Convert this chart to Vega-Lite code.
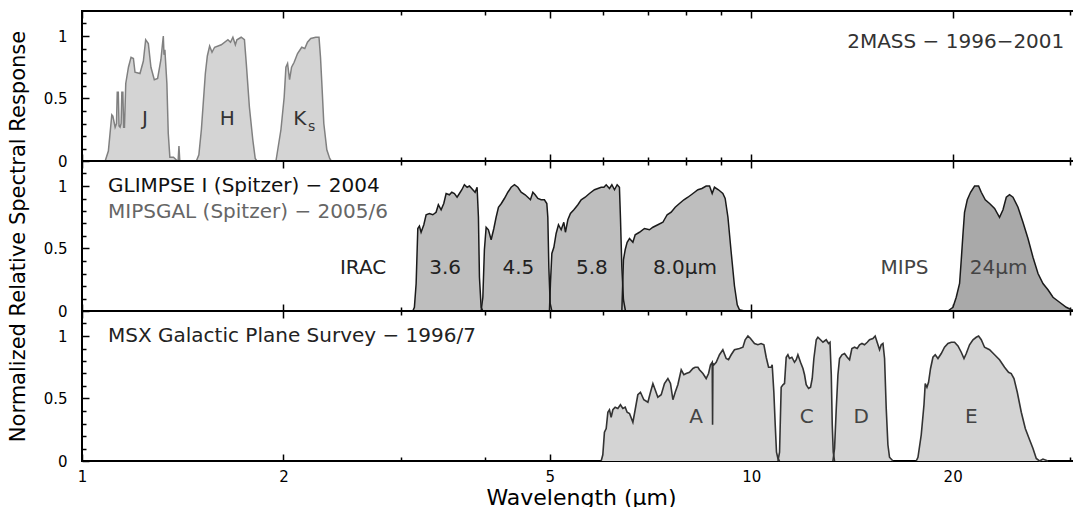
{
"$schema":"https://vega.github.io/schema/vega-lite/v6.json",
"background":"white",
"padding":{"left":6,"top":9,"right":0,"bottom":0},
"config":{"view":{"stroke":"black","strokeWidth":2},"font":"DejaVu Sans"},
"spacing":0,
"bounds":"flush",
"datasets":{
"twomass":[
{"band":"J","wl":1.083,"r":0},{"band":"J","wl":1.095,"r":0.08},{"band":"J","wl":1.108,"r":0.37},{"band":"J","wl":1.112,"r":0.36},{"band":"J","wl":1.1207,"r":0.27},{"band":"J","wl":1.126,"r":0.3},{"band":"J","wl":1.129,"r":0.55},{"band":"J","wl":1.133,"r":0.55},{"band":"J","wl":1.136,"r":0.28},{"band":"J","wl":1.14,"r":0.27},{"band":"J","wl":1.144,"r":0.3},{"band":"J","wl":1.147,"r":0.55},{"band":"J","wl":1.151,"r":0.55},{"band":"J","wl":1.154,"r":0.27},{"band":"J","wl":1.1573,"r":0.27},{"band":"J","wl":1.1625,"r":0.62},{"band":"J","wl":1.1733,"r":0.75},{"band":"J","wl":1.1838,"r":0.83},{"band":"J","wl":1.1935,"r":0.82},{"band":"J","wl":1.2001,"r":0.71},{"band":"J","wl":1.2208,"r":0.7},{"band":"J","wl":1.2351,"r":0.8},{"band":"J","wl":1.2449,"r":0.97},{"band":"J","wl":1.2564,"r":0.94},{"band":"J","wl":1.2677,"r":0.75},{"band":"J","wl":1.2825,"r":0.65},{"band":"J","wl":1.2972,"r":0.66},{"band":"J","wl":1.3119,"r":0.81},{"band":"J","wl":1.3228,"r":1.0},{"band":"J","wl":1.326,"r":0.85},{"band":"J","wl":1.33,"r":0.89},{"band":"J","wl":1.3392,"r":0.62},{"band":"J","wl":1.3456,"r":0.22},{"band":"J","wl":1.353,"r":0.03},{"band":"J","wl":1.37,"r":0.03},{"band":"J","wl":1.3889,"r":0},{"band":"J","wl":1.392,"r":0},{"band":"J","wl":1.396,"r":0.12},{"band":"J","wl":1.4,"r":0},
{"band":"H","wl":1.4823,"r":0},{"band":"H","wl":1.495,"r":0.05},{"band":"H","wl":1.5079,"r":0.25},{"band":"H","wl":1.5287,"r":0.7},{"band":"H","wl":1.5392,"r":0.84},{"band":"H","wl":1.5514,"r":0.92},{"band":"H","wl":1.5642,"r":0.87},{"band":"H","wl":1.5782,"r":0.91},{"band":"H","wl":1.6148,"r":0.93},{"band":"H","wl":1.6522,"r":0.97},{"band":"H","wl":1.667,"r":0.95},{"band":"H","wl":1.6807,"r":0.99},{"band":"H","wl":1.695,"r":0.93},{"band":"H","wl":1.704,"r":0.97},{"band":"H","wl":1.7292,"r":0.99},{"band":"H","wl":1.7488,"r":0.97},{"band":"H","wl":1.76,"r":0.78},{"band":"H","wl":1.779,"r":0.43},{"band":"H","wl":1.7998,"r":0.17},{"band":"H","wl":1.815,"r":0.02},{"band":"H","wl":1.825,"r":0},
{"band":"Ks","wl":1.9491,"r":0},{"band":"Ks","wl":1.9827,"r":0.25},{"band":"Ks","wl":2.005,"r":0.51},{"band":"Ks","wl":2.017,"r":0.75},{"band":"Ks","wl":2.0287,"r":0.78},{"band":"Ks","wl":2.0426,"r":0.65},{"band":"Ks","wl":2.0567,"r":0.75},{"band":"Ks","wl":2.0751,"r":0.79},{"band":"Ks","wl":2.0993,"r":0.86},{"band":"Ks","wl":2.13,"r":0.91},{"band":"Ks","wl":2.1524,"r":0.9},{"band":"Ks","wl":2.1723,"r":0.95},{"band":"Ks","wl":2.197,"r":0.98},{"band":"Ks","wl":2.2349,"r":0.99},{"band":"Ks","wl":2.2603,"r":0.99},{"band":"Ks","wl":2.272,"r":0.83},{"band":"Ks","wl":2.285,"r":0.57},{"band":"Ks","wl":2.298,"r":0.3},{"band":"Ks","wl":2.322,"r":0.09},{"band":"Ks","wl":2.345,"r":0.02},{"band":"Ks","wl":2.358,"r":0}
],
"spitzer":[
{"band":"3.6","wl":3.1213,"r":0},{"band":"3.6","wl":3.1385,"r":0.03},{"band":"3.6","wl":3.1573,"r":0.22},{"band":"3.6","wl":3.1755,"r":0.66},{"band":"3.6","wl":3.1932,"r":0.68},{"band":"3.6","wl":3.2116,"r":0.63},{"band":"3.6","wl":3.2419,"r":0.69},{"band":"3.6","wl":3.2676,"r":0.77},{"band":"3.6","wl":3.3045,"r":0.78},{"band":"3.6","wl":3.3437,"r":0.77},{"band":"3.6","wl":3.3815,"r":0.79},{"band":"3.6","wl":3.4082,"r":0.85},{"band":"3.6","wl":3.4406,"r":0.81},{"band":"3.6","wl":3.4722,"r":0.86},{"band":"3.6","wl":3.5005,"r":0.94},{"band":"3.6","wl":3.54,"r":0.93},{"band":"3.6","wl":3.5696,"r":0.95},{"band":"3.6","wl":3.6018,"r":0.94},{"band":"3.6","wl":3.635,"r":0.91},{"band":"3.6","wl":3.6646,"r":0.94},{"band":"3.6","wl":3.6951,"r":0.97},{"band":"3.6","wl":3.7275,"r":1.01},{"band":"3.6","wl":3.763,"r":0.99},{"band":"3.6","wl":3.7928,"r":1.0},{"band":"3.6","wl":3.8373,"r":0.97},{"band":"3.6","wl":3.8675,"r":0.95},{"band":"3.6","wl":3.8941,"r":0.99},{"band":"3.6","wl":3.9122,"r":0.75},{"band":"3.6","wl":3.9258,"r":0.27},{"band":"3.6","wl":3.9485,"r":0.03},{"band":"3.6","wl":3.972,"r":0},
{"band":"4.5","wl":3.9485,"r":0},{"band":"4.5","wl":3.972,"r":0.11},{"band":"4.5","wl":3.9932,"r":0.49},{"band":"4.5","wl":4.0173,"r":0.67},{"band":"4.5","wl":4.0488,"r":0.65},{"band":"4.5","wl":4.0871,"r":0.57},{"band":"4.5","wl":4.1251,"r":0.66},{"band":"4.5","wl":4.1574,"r":0.75},{"band":"4.5","wl":4.191,"r":0.83},{"band":"4.5","wl":4.2328,"r":0.86},{"band":"4.5","wl":4.2777,"r":0.9},{"band":"4.5","wl":4.3289,"r":0.95},{"band":"4.5","wl":4.3784,"r":0.99},{"band":"4.5","wl":4.4286,"r":1.01},{"band":"4.5","wl":4.4803,"r":0.99},{"band":"4.5","wl":4.5313,"r":0.95},{"band":"4.5","wl":4.5943,"r":0.93},{"band":"4.5","wl":4.6369,"r":0.91},{"band":"4.5","wl":4.6785,"r":0.89},{"band":"4.5","wl":4.7177,"r":0.95},{"band":"4.5","wl":4.7547,"r":0.93},{"band":"4.5","wl":4.7997,"r":0.9},{"band":"4.5","wl":4.8543,"r":0.89},{"band":"4.5","wl":4.9092,"r":0.89},{"band":"4.5","wl":4.95,"r":0.86},{"band":"4.5","wl":4.9672,"r":0.75},{"band":"4.5","wl":4.9845,"r":0.35},{"band":"4.5","wl":5.0073,"r":0.06},{"band":"4.5","wl":5.0364,"r":0},
{"band":"5.8","wl":4.9948,"r":0},{"band":"5.8","wl":5.0119,"r":0.22},{"band":"5.8","wl":5.0364,"r":0.46},{"band":"5.8","wl":5.0714,"r":0.51},{"band":"5.8","wl":5.1111,"r":0.62},{"band":"5.8","wl":5.1525,"r":0.69},{"band":"5.8","wl":5.2003,"r":0.65},{"band":"5.8","wl":5.2481,"r":0.71},{"band":"5.8","wl":5.2774,"r":0.63},{"band":"5.8","wl":5.3214,"r":0.73},{"band":"5.8","wl":5.3691,"r":0.78},{"band":"5.8","wl":5.4329,"r":0.81},{"band":"5.8","wl":5.5082,"r":0.85},{"band":"5.8","wl":5.5711,"r":0.89},{"band":"5.8","wl":5.6483,"r":0.91},{"band":"5.8","wl":5.7321,"r":0.94},{"band":"5.8","wl":5.8321,"r":0.97},{"band":"5.8","wl":5.9007,"r":0.98},{"band":"5.8","wl":5.9676,"r":0.99},{"band":"5.8","wl":6.0242,"r":0.99},{"band":"5.8","wl":6.0719,"r":1.01},{"band":"5.8","wl":6.1407,"r":0.98},{"band":"5.8","wl":6.1918,"r":1.01},{"band":"5.8","wl":6.2478,"r":0.97},{"band":"5.8","wl":6.3053,"r":1.01},{"band":"5.8","wl":6.3551,"r":0.99},{"band":"5.8","wl":6.3772,"r":0.75},{"band":"5.8","wl":6.408,"r":0.35},{"band":"5.8","wl":6.4433,"r":0.09},{"band":"5.8","wl":6.4881,"r":0},
{"band":"8.0","wl":6.408,"r":0},{"band":"8.0","wl":6.4433,"r":0.41},{"band":"8.0","wl":6.4821,"r":0.49},{"band":"8.0","wl":6.5257,"r":0.55},{"band":"8.0","wl":6.5793,"r":0.58},{"band":"8.0","wl":6.6562,"r":0.55},{"band":"8.0","wl":6.7089,"r":0.61},{"band":"8.0","wl":6.8081,"r":0.63},{"band":"8.0","wl":6.9264,"r":0.66},{"band":"8.0","wl":7.0473,"r":0.65},{"band":"8.0","wl":7.1306,"r":0.67},{"band":"8.0","wl":7.2528,"r":0.69},{"band":"8.0","wl":7.3794,"r":0.71},{"band":"8.0","wl":7.4891,"r":0.77},{"band":"8.0","wl":7.5929,"r":0.79},{"band":"8.0","wl":7.6994,"r":0.83},{"band":"8.0","wl":7.8131,"r":0.86},{"band":"8.0","wl":7.9325,"r":0.89},{"band":"8.0","wl":8.0432,"r":0.91},{"band":"8.0","wl":8.1832,"r":0.94},{"band":"8.0","wl":8.3254,"r":0.97},{"band":"8.0","wl":8.4397,"r":0.98},{"band":"8.0","wl":8.5649,"r":1.0},{"band":"8.0","wl":8.6651,"r":1.0},{"band":"8.0","wl":8.7441,"r":0.94},{"band":"8.0","wl":8.8131,"r":0.99},{"band":"8.0","wl":8.9353,"r":0.97},{"band":"8.0","wl":9.0709,"r":0.94},{"band":"8.0","wl":9.1435,"r":0.9},{"band":"8.0","wl":9.2313,"r":0.75},{"band":"8.0","wl":9.3347,"r":0.47},{"band":"8.0","wl":9.4412,"r":0.2},{"band":"8.0","wl":9.5317,"r":0.05},{"band":"8.0","wl":9.6055,"r":0.01},{"band":"8.0","wl":9.7724,"r":0},
{"band":"24","wl":19.68,"r":0},{"band":"24","wl":20.023,"r":0.03},{"band":"24","wl":20.25,"r":0.11},{"band":"24","wl":20.484,"r":0.22},{"band":"24","wl":20.603,"r":0.41},{"band":"24","wl":20.727,"r":0.62},{"band":"24","wl":20.836,"r":0.79},{"band":"24","wl":21.034,"r":0.89},{"band":"24","wl":21.273,"r":0.95},{"band":"24","wl":21.569,"r":1.0},{"band":"24","wl":21.868,"r":1.0},{"band":"24","wl":22.071,"r":0.95},{"band":"24","wl":22.377,"r":0.89},{"band":"24","wl":22.711,"r":0.86},{"band":"24","wl":23.106,"r":0.82},{"band":"24","wl":23.502,"r":0.75},{"band":"24","wl":23.783,"r":0.81},{"band":"24","wl":24.055,"r":0.91},{"band":"24","wl":24.325,"r":0.93},{"band":"24","wl":24.616,"r":0.91},{"band":"24","wl":25.044,"r":0.83},{"band":"24","wl":25.476,"r":0.71},{"band":"24","wl":25.919,"r":0.58},{"band":"24","wl":26.37,"r":0.43},{"band":"24","wl":26.83,"r":0.3},{"band":"24","wl":27.291,"r":0.22},{"band":"24","wl":27.767,"r":0.17},{"band":"24","wl":28.25,"r":0.11},{"band":"24","wl":28.894,"r":0.07},{"band":"24","wl":29.574,"r":0.03},{"band":"24","wl":30.08,"r":0.01},{"band":"24","wl":31,"r":0}
],
"msx":[
{"band":"A","wl":5.9676,"r":0},{"band":"A","wl":6.0017,"r":0.05},{"band":"A","wl":6.0354,"r":0.23},{"band":"A","wl":6.0719,"r":0.26},{"band":"A","wl":6.107,"r":0.39},{"band":"A","wl":6.1407,"r":0.41},{"band":"A","wl":6.1761,"r":0.35},{"band":"A","wl":6.2133,"r":0.41},{"band":"A","wl":6.2621,"r":0.43},{"band":"A","wl":6.3199,"r":0.42},{"band":"A","wl":6.3772,"r":0.45},{"band":"A","wl":6.4301,"r":0.42},{"band":"A","wl":6.4821,"r":0.43},{"band":"A","wl":6.5257,"r":0.39},{"band":"A","wl":6.5793,"r":0.38},{"band":"A","wl":6.6562,"r":0.31},{"band":"A","wl":6.7085,"r":0.41},{"band":"A","wl":6.7703,"r":0.53},{"band":"A","wl":6.8317,"r":0.55},{"band":"A","wl":6.912,"r":0.49},{"band":"A","wl":7.0086,"r":0.47},{"band":"A","wl":7.0715,"r":0.55},{"band":"A","wl":7.1306,"r":0.62},{"band":"A","wl":7.1867,"r":0.57},{"band":"A","wl":7.2528,"r":0.51},{"band":"A","wl":7.3372,"r":0.53},{"band":"A","wl":7.42,"r":0.62},{"band":"A","wl":7.5081,"r":0.66},{"band":"A","wl":7.5755,"r":0.62},{"band":"A","wl":7.6388,"r":0.49},{"band":"A","wl":7.6994,"r":0.55},{"band":"A","wl":7.7697,"r":0.61},{"band":"A","wl":7.8601,"r":0.73},{"band":"A","wl":7.9325,"r":0.69},{"band":"A","wl":7.9951,"r":0.7},{"band":"A","wl":8.0876,"r":0.71},{"band":"A","wl":8.1832,"r":0.74},{"band":"A","wl":8.2468,"r":0.75},{"band":"A","wl":8.3254,"r":0.75},{"band":"A","wl":8.3699,"r":0.73},{"band":"A","wl":8.47,"r":0.7},{"band":"A","wl":8.5649,"r":0.66},{"band":"A","wl":8.6357,"r":0.7},{"band":"A","wl":8.6936,"r":0.77},{"band":"A","wl":8.745,"r":0.79},{"band":"A","wl":8.756,"r":0.29},{"band":"A","wl":8.766,"r":0.78},{"band":"A","wl":8.797,"r":0.77},{"band":"A","wl":8.8655,"r":0.79},{"band":"A","wl":8.9665,"r":0.85},{"band":"A","wl":9.0709,"r":0.89},{"band":"A","wl":9.1753,"r":0.82},{"band":"A","wl":9.2497,"r":0.81},{"band":"A","wl":9.3347,"r":0.85},{"band":"A","wl":9.4412,"r":0.89},{"band":"A","wl":9.6055,"r":0.9},{"band":"A","wl":9.7191,"r":0.91},{"band":"A","wl":9.7952,"r":0.97},{"band":"A","wl":9.8886,"r":1.0},{"band":"A","wl":9.977,"r":0.98},{"band":"A","wl":10.114,"r":0.94},{"band":"A","wl":10.233,"r":0.93},{"band":"A","wl":10.349,"r":0.94},{"band":"A","wl":10.447,"r":0.93},{"band":"A","wl":10.53,"r":0.83},{"band":"A","wl":10.616,"r":0.75},{"band":"A","wl":10.713,"r":0.75},{"band":"A","wl":10.749,"r":0.77},{"band":"A","wl":10.811,"r":0.55},{"band":"A","wl":10.862,"r":0.29},{"band":"A","wl":10.91,"r":0.07},{"band":"A","wl":10.963,"r":0.02},{"band":"A","wl":11.025,"r":0},
{"band":"C","wl":10.963,"r":0},{"band":"C","wl":11.025,"r":0.07},{"band":"C","wl":11.087,"r":0.59},{"band":"C","wl":11.154,"r":0.61},{"band":"C","wl":11.215,"r":0.62},{"band":"C","wl":11.28,"r":0.83},{"band":"C","wl":11.346,"r":0.85},{"band":"C","wl":11.409,"r":0.82},{"band":"C","wl":11.503,"r":0.83},{"band":"C","wl":11.607,"r":0.79},{"band":"C","wl":11.676,"r":0.81},{"band":"C","wl":11.744,"r":0.85},{"band":"C","wl":11.85,"r":0.79},{"band":"C","wl":11.95,"r":0.74},{"band":"C","wl":12.015,"r":0.69},{"band":"C","wl":12.085,"r":0.61},{"band":"C","wl":12.183,"r":0.58},{"band":"C","wl":12.266,"r":0.59},{"band":"C","wl":12.337,"r":0.66},{"band":"C","wl":12.407,"r":0.82},{"band":"C","wl":12.509,"r":0.97},{"band":"C","wl":12.58,"r":0.99},{"band":"C","wl":12.694,"r":0.97},{"band":"C","wl":12.8,"r":0.95},{"band":"C","wl":12.945,"r":0.97},{"band":"C","wl":13.052,"r":0.94},{"band":"C","wl":13.115,"r":0.95},{"band":"C","wl":13.173,"r":0.69},{"band":"C","wl":13.217,"r":0.29},{"band":"C","wl":13.263,"r":0.07},{"band":"C","wl":13.322,"r":0},
{"band":"D","wl":13.247,"r":0},{"band":"D","wl":13.322,"r":0.1},{"band":"D","wl":13.401,"r":0.42},{"band":"D","wl":13.478,"r":0.69},{"band":"D","wl":13.553,"r":0.82},{"band":"D","wl":13.666,"r":0.85},{"band":"D","wl":13.788,"r":0.86},{"band":"D","wl":13.916,"r":0.83},{"band":"D","wl":14.028,"r":0.81},{"band":"D","wl":14.141,"r":0.9},{"band":"D","wl":14.27,"r":0.91},{"band":"D","wl":14.402,"r":0.9},{"band":"D","wl":14.518,"r":0.93},{"band":"D","wl":14.639,"r":0.94},{"band":"D","wl":14.768,"r":0.93},{"band":"D","wl":14.908,"r":0.95},{"band":"D","wl":15.026,"r":0.97},{"band":"D","wl":15.202,"r":0.98},{"band":"D","wl":15.32,"r":1.0},{"band":"D","wl":15.425,"r":0.95},{"band":"D","wl":15.553,"r":0.89},{"band":"D","wl":15.643,"r":0.93},{"band":"D","wl":15.737,"r":0.94},{"band":"D","wl":15.824,"r":0.82},{"band":"D","wl":15.915,"r":0.42},{"band":"D","wl":16.007,"r":0.13},{"band":"D","wl":16.096,"r":0.03},{"band":"D","wl":16.287,"r":0},
{"band":"E","wl":17.645,"r":0},{"band":"E","wl":17.751,"r":0.03},{"band":"E","wl":17.953,"r":0.21},{"band":"E","wl":18.122,"r":0.45},{"band":"E","wl":18.201,"r":0.62},{"band":"E","wl":18.307,"r":0.59},{"band":"E","wl":18.409,"r":0.63},{"band":"E","wl":18.536,"r":0.74},{"band":"E","wl":18.69,"r":0.83},{"band":"E","wl":18.838,"r":0.85},{"band":"E","wl":19.016,"r":0.82},{"band":"E","wl":19.232,"r":0.86},{"band":"E","wl":19.449,"r":0.91},{"band":"E","wl":19.68,"r":0.94},{"band":"E","wl":19.907,"r":0.95},{"band":"E","wl":20.134,"r":0.95},{"band":"E","wl":20.371,"r":0.92},{"band":"E","wl":20.603,"r":0.87},{"band":"E","wl":20.798,"r":0.82},{"band":"E","wl":20.961,"r":0.86},{"band":"E","wl":21.198,"r":0.93},{"band":"E","wl":21.45,"r":0.97},{"band":"E","wl":21.693,"r":0.99},{"band":"E","wl":21.868,"r":1.0},{"band":"E","wl":22.071,"r":0.97},{"band":"E","wl":22.321,"r":0.91},{"band":"E","wl":22.711,"r":0.89},{"band":"E","wl":23.106,"r":0.85},{"band":"E","wl":23.502,"r":0.81},{"band":"E","wl":23.912,"r":0.75},{"band":"E","wl":24.242,"r":0.71},{"band":"E","wl":24.467,"r":0.7},{"band":"E","wl":24.701,"r":0.66},{"band":"E","wl":24.983,"r":0.55},{"band":"E","wl":25.33,"r":0.39},{"band":"E","wl":25.681,"r":0.26},{"band":"E","wl":26.063,"r":0.17},{"band":"E","wl":26.37,"r":0.1},{"band":"E","wl":26.672,"r":0.02},{"band":"E","wl":26.971,"r":0},{"band":"E","wl":27.291,"r":0.015},{"band":"E","wl":27.767,"r":0}
],
"lab1":[
{"kind":"band","text":"J","wl":1.2423,"r":0.34},{"kind":"band","text":"H","wl":1.6488,"r":0.34},{"kind":"band","text":"K","wl":2.1155,"r":0.34},{"kind":"sub","text":"s","wl":2.2046,"r":0.27},{"kind":"title","text":"2MASS − 1996−2001","wl":29.37,"r":0.95}
],
"lab2":[
{"kind":"title1","text":"GLIMPSE I (Spitzer) − 2004","wl":1.0937,"r":1.0},{"kind":"title2","text":"MIPSGAL (Spitzer) − 2005/6","wl":1.0937,"r":0.79},{"kind":"irac","text":"IRAC","wl":2.6303,"r":0.344},{"kind":"irac","text":"3.6","wl":3.4887,"r":0.344},{"kind":"irac","text":"4.5","wl":4.4895,"r":0.344},{"kind":"irac","text":"5.8","wl":5.78,"r":0.344},{"kind":"irac","text":"8.0μm","wl":7.96,"r":0.344},{"kind":"mips","text":"MIPS","wl":16.95,"r":0.344},{"kind":"mips","text":"24μm","wl":23.43,"r":0.344}
],
"lab3":[
{"kind":"title","text":"MSX Galactic Plane Survey − 1996/7","wl":1.0937,"r":1.0},{"kind":"band","text":"A","wl":8.276,"r":0.354},{"kind":"band","text":"C","wl":12.11,"r":0.354},{"kind":"band","text":"D","wl":14.6,"r":0.354},{"kind":"band","text":"E","wl":21.32,"r":0.354}
]
},
"vconcat":[
{
"width":998,"height":150,
"resolve":{"axis":{"x":"independent"}},
"encoding":{"y":{"field":"r","type":"quantitative","stack":null,"scale":{"domain":[0,1.2],"nice":false},"axis":{"orient":"left","values":[0,0.1,0.2,0.3,0.4,0.5,0.6,0.7,0.8,0.9,1,1.1],"domain":false,"grid":false,"title":null,"tickColor":"black","tickWidth":1.5,"tickSize":{"condition":{"test":"datum.value==0||datum.value==0.5||datum.value==1","value":-7},"value":-4},"format":"~g","labelExpr":"(datum.value==0||datum.value==0.5||datum.value==1) ? datum.label : ''","labelFontSize":15,"labelColor":"black","labelPadding":22,"labelOverlap":false,"labelFlush":false}}},
"layer":[
{"data":{"name":"twomass"},"mark":{"type":"area","color":"#d4d4d4","opacity":1},
"encoding":{
"x":{"field":"wl","type":"quantitative","scale":{"type":"log","domain":[1,31]},"axis":{"orient":"bottom","values":[1,2,3,4,5,6,7,8,9,10,20,30],"labels":false,"domain":false,"grid":false,"title":null,"tickColor":"black","tickWidth":1.5,"tickSize":{"condition":{"test":"indexof([1,2,5,10,20],datum.value)>=0","value":-7},"value":-4}}},
"detail":{"field":"band"}}},
{"data":{"name":"twomass"},"mark":{"type":"line","color":"#808080","strokeWidth":1.5},
"encoding":{
"x":{"field":"wl","type":"quantitative","scale":{"type":"log","domain":[1,31]},"axis":{"orient":"top","values":[1,2,3,4,5,6,7,8,9,10,20,30],"labels":false,"domain":false,"grid":false,"title":null,"tickColor":"black","tickWidth":1.5,"tickSize":{"condition":{"test":"indexof([1,2,5,10,20],datum.value)>=0","value":-7},"value":-4}}},
"detail":{"field":"band"}}},
{"data":{"name":"lab1"},"transform":[{"filter":"datum.kind=='band'"}],"mark":{"type":"text","align":"center","baseline":"middle","fontSize":20,"color":"#333333"},
"encoding":{"x":{"field":"wl","type":"quantitative","scale":{"type":"log","domain":[1,31]},"axis":null},"text":{"field":"text"}}},
{"data":{"name":"lab1"},"transform":[{"filter":"datum.kind=='sub'"}],"mark":{"type":"text","align":"center","baseline":"middle","fontSize":14,"color":"#333333"},
"encoding":{"x":{"field":"wl","type":"quantitative","scale":{"type":"log","domain":[1,31]},"axis":null},"text":{"field":"text"}}},
{"data":{"name":"lab1"},"transform":[{"filter":"datum.kind=='title'"}],"mark":{"type":"text","align":"right","baseline":"middle","fontSize":20,"color":"#333333"},
"encoding":{"x":{"field":"wl","type":"quantitative","scale":{"type":"log","domain":[1,31]},"axis":null},"text":{"field":"text"}}}
]
},
{
"width":998,"height":150,
"resolve":{"axis":{"x":"independent"}},
"encoding":{"y":{"field":"r","type":"quantitative","stack":null,"scale":{"domain":[0,1.2],"nice":false},"axis":{"orient":"left","values":[0,0.1,0.2,0.3,0.4,0.5,0.6,0.7,0.8,0.9,1,1.1],"domain":false,"grid":false,"title":"Normalized Relative Spectral Response","titleFontSize":21,"titleFontWeight":"normal","titleColor":"black","titlePadding":15,"tickColor":"black","tickWidth":1.5,"tickSize":{"condition":{"test":"datum.value==0||datum.value==0.5||datum.value==1","value":-7},"value":-4},"format":"~g","labelExpr":"(datum.value==0||datum.value==0.5||datum.value==1) ? datum.label : ''","labelFontSize":15,"labelColor":"black","labelPadding":22,"labelOverlap":false,"labelFlush":false}}},
"layer":[
{"data":{"name":"spitzer"},"transform":[{"filter":"datum.band!='24'"}],"mark":{"type":"area","color":"#bebebe","opacity":1},
"encoding":{
"x":{"field":"wl","type":"quantitative","scale":{"type":"log","domain":[1,31]},"axis":{"orient":"bottom","values":[1,2,3,4,5,6,7,8,9,10,20,30],"labels":false,"domain":false,"grid":false,"title":null,"tickColor":"black","tickWidth":1.5,"tickSize":{"condition":{"test":"indexof([1,2,5,10,20],datum.value)>=0","value":-7},"value":-4}}},
"detail":{"field":"band"}}},
{"data":{"name":"spitzer"},"transform":[{"filter":"datum.band=='24'"}],"mark":{"type":"area","color":"#a9a9a9","opacity":1},
"encoding":{
"x":{"field":"wl","type":"quantitative","scale":{"type":"log","domain":[1,31]},"axis":null},
"detail":{"field":"band"}}},
{"data":{"name":"spitzer"},"mark":{"type":"line","color":"#1a1a1a","strokeWidth":1.5},
"encoding":{
"x":{"field":"wl","type":"quantitative","scale":{"type":"log","domain":[1,31]},"axis":{"orient":"top","values":[1,2,3,4,5,6,7,8,9,10,20,30],"labels":false,"domain":false,"grid":false,"title":null,"tickColor":"black","tickWidth":1.5,"tickSize":{"condition":{"test":"indexof([1,2,5,10,20],datum.value)>=0","value":-7},"value":-4}}},
"detail":{"field":"band"}}},
{"data":{"name":"lab2"},"transform":[{"filter":"datum.kind=='title1'"}],"mark":{"type":"text","align":"left","baseline":"middle","fontSize":20,"color":"#111111"},
"encoding":{"x":{"field":"wl","type":"quantitative","scale":{"type":"log","domain":[1,31]},"axis":null},"text":{"field":"text"}}},
{"data":{"name":"lab2"},"transform":[{"filter":"datum.kind=='title2'"}],"mark":{"type":"text","align":"left","baseline":"middle","fontSize":20,"color":"#666666"},
"encoding":{"x":{"field":"wl","type":"quantitative","scale":{"type":"log","domain":[1,31]},"axis":null},"text":{"field":"text"}}},
{"data":{"name":"lab2"},"transform":[{"filter":"datum.kind=='irac'"}],"mark":{"type":"text","align":"center","baseline":"middle","fontSize":20,"color":"#222222"},
"encoding":{"x":{"field":"wl","type":"quantitative","scale":{"type":"log","domain":[1,31]},"axis":null},"text":{"field":"text"}}},
{"data":{"name":"lab2"},"transform":[{"filter":"datum.kind=='mips'"}],"mark":{"type":"text","align":"center","baseline":"middle","fontSize":20,"color":"#444444"},
"encoding":{"x":{"field":"wl","type":"quantitative","scale":{"type":"log","domain":[1,31]},"axis":null},"text":{"field":"text"}}}
]
},
{
"width":998,"height":150,
"resolve":{"axis":{"x":"independent"}},
"encoding":{"y":{"field":"r","type":"quantitative","stack":null,"scale":{"domain":[0,1.2],"nice":false},"axis":{"orient":"left","values":[0,0.1,0.2,0.3,0.4,0.5,0.6,0.7,0.8,0.9,1,1.1],"domain":false,"grid":false,"title":null,"tickColor":"black","tickWidth":1.5,"tickSize":{"condition":{"test":"datum.value==0||datum.value==0.5||datum.value==1","value":-7},"value":-4},"format":"~g","labelExpr":"(datum.value==0||datum.value==0.5||datum.value==1) ? datum.label : ''","labelFontSize":15,"labelColor":"black","labelPadding":22,"labelOverlap":false,"labelFlush":false}}},
"layer":[
{"data":{"name":"msx"},"mark":{"type":"area","color":"#d4d4d4","opacity":1},
"encoding":{
"x":{"field":"wl","type":"quantitative","scale":{"type":"log","domain":[1,31]},"axis":{"orient":"bottom","values":[1,2,3,4,5,6,7,8,9,10,20,30],"labels":true,"format":"~g","labelExpr":"indexof([1,2,5,10,20],datum.value)>=0 ? datum.label : ''","labelFontSize":15,"labelColor":"black","labelPadding":15,"labelOverlap":false,"labelFlush":false,"domain":false,"grid":false,"title":"Wavelength (μm)","titleFontSize":22,"titleFontWeight":"normal","titleColor":"black","titlePadding":0,"tickColor":"black","tickWidth":1.5,"tickSize":{"condition":{"test":"indexof([1,2,5,10,20],datum.value)>=0","value":-7},"value":-4}}},
"detail":{"field":"band"}}},
{"data":{"name":"msx"},"mark":{"type":"line","color":"#333333","strokeWidth":1.6},
"encoding":{
"x":{"field":"wl","type":"quantitative","scale":{"type":"log","domain":[1,31]},"axis":{"orient":"top","values":[1,2,3,4,5,6,7,8,9,10,20,30],"labels":false,"domain":false,"grid":false,"title":null,"tickColor":"black","tickWidth":1.5,"tickSize":{"condition":{"test":"indexof([1,2,5,10,20],datum.value)>=0","value":-7},"value":-4}}},
"detail":{"field":"band"}}},
{"data":{"name":"lab3"},"transform":[{"filter":"datum.kind=='title'"}],"mark":{"type":"text","align":"left","baseline":"middle","fontSize":20,"color":"#222222"},
"encoding":{"x":{"field":"wl","type":"quantitative","scale":{"type":"log","domain":[1,31]},"axis":null},"text":{"field":"text"}}},
{"data":{"name":"lab3"},"transform":[{"filter":"datum.kind=='band'"}],"mark":{"type":"text","align":"center","baseline":"middle","fontSize":20,"color":"#444444"},
"encoding":{"x":{"field":"wl","type":"quantitative","scale":{"type":"log","domain":[1,31]},"axis":null},"text":{"field":"text"}}}
]
}
]
}
